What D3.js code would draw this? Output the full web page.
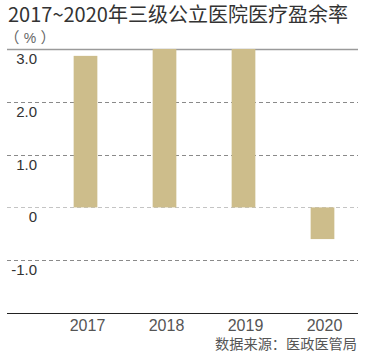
<!DOCTYPE html>
<html><head><meta charset="utf-8">
<script src="https://cdn.jsdelivr.net/npm/d3@7"></script>
<style>body{margin:0;background:#fff}svg{display:block}</style>
</head><body>
<script>
const categories = ["2017","2018","2019","2020"];
const values = [2.87, 3.0, 3.0, -0.6];
const yTicks = [-1, 0, 1, 2, 3];
const yTickLabels = ["-1.0","0","1.0","2.0","3.0"];
const title = "2017~2020年三级公立医院医疗盈余率";
const unitParts = ["（", "%", "）"];
const source = "数据来源：医政医管局";

const W = 366, H = 356;
const svg = d3.select("body").append("svg").attr("width", W).attr("height", H);
const font = "'Liberation Sans', Arial, sans-serif";
const cjk = "'Noto Sans CJK SC', sans-serif";

const y = d3.scaleLinear().domain([-2, 3]).range([313, 49]);
const x = d3.scaleBand().domain(categories).range([46, 362]).paddingInner(0.7).paddingOuter(0.35);
const left = 7, right = 358;

svg.append("text").attr("x", 8).attr("y", 22).attr("font-family", cjk).attr("font-size", 20)
  .attr("fill", "#333").text(title);
const unitX = [12, 30, 48];
unitParts.forEach((p, i) => {
  svg.append("text").attr("x", unitX[i]).attr("y", 43).attr("text-anchor", "middle")
    .attr("font-family", i === 1 ? font : cjk).attr("font-size", i === 1 ? 14 : 15).attr("fill", "#666").text(p);
});

// gridlines
const g = svg.append("g");
yTicks.forEach(t => {
  if (t === 3) return;
  g.append("line").attr("x1", left).attr("x2", right).attr("y1", Math.round(y(t)) + 0.5).attr("y2", Math.round(y(t)) + 0.5)
    .attr("stroke", t === 0 ? "#c4c4c4" : "#8a8a8a").attr("stroke-width", 1)
    .attr("stroke-dasharray", "4,3");
});
// top solid line
g.append("line").attr("x1", left).attr("x2", right).attr("y1", Math.round(y(3)) + 0.5).attr("y2", Math.round(y(3)) + 0.5)
  .attr("stroke", "#9a9a9a").attr("stroke-width", 1.5);

// y labels
yTicks.forEach((t, i) => {
  svg.append("text").attr("x", 37).attr("y", y(t) + 15).attr("text-anchor", "end")
    .attr("font-family", font).attr("font-size", 15).attr("fill", "#333").text(yTickLabels[i]);
});

// bars
svg.append("g").selectAll("rect").data(values).join("rect")
  .attr("x", (d, i) => x(categories[i]))
  .attr("width", x.bandwidth())
  .attr("y", d => y(Math.max(0, d)))
  .attr("height", d => Math.abs(y(d) - y(0)))
  .attr("fill", "#cdbd8b");

// bottom axis
svg.append("line").attr("x1", left).attr("x2", right).attr("y1", 313.5).attr("y2", 313.5)
  .attr("stroke", "#222").attr("stroke-width", 1.2);
categories.forEach(c => {
  svg.append("text").attr("x", x(c) + x.bandwidth() / 2 + 2).attr("y", 331).attr("text-anchor", "middle")
    .attr("font-family", font).attr("font-size", 16).attr("fill", "#555").text(c);
});

svg.append("text").attr("x", 357).attr("y", 349).attr("text-anchor", "end")
  .attr("font-family", cjk).attr("font-size", 14.2).attr("fill", "#555").text(source);
</script>
</body></html>
